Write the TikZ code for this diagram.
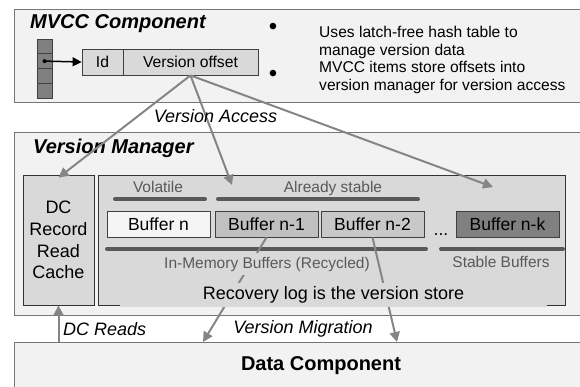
\documentclass[tikz,border=0pt]{standalone}
\usepackage{fontspec}
\setmainfont{Liberation Sans}
\usetikzlibrary{arrows.meta}
\definecolor{panelgray}{HTML}{F2F2F2}
\definecolor{boxgray}{HTML}{D9D9D9}
\definecolor{edgegray}{HTML}{767676}
\definecolor{arrowgray}{HTML}{858585}
\definecolor{bargray}{HTML}{595959}
\definecolor{cellgray}{HTML}{808080}
\definecolor{oldgray}{HTML}{C0C0C0}
\definecolor{oldergray}{HTML}{C8C8C8}
\definecolor{newgray}{HTML}{F5F5F5}

\begin{document}
\begin{tikzpicture}[x=1pt, y=-1pt,
  panel/.style={draw=edgegray, line width=1.2pt, fill=panelgray, anchor=north west, inner sep=0pt},
  paneltitle/.style={font=\fontsize{20}{24}\selectfont\bfseries\itshape, anchor=base west, inner sep=0pt},
  hashcell/.style={draw=black!75, line width=0.8pt, fill=cellgray, minimum width=15pt, minimum height=14.75pt, inner sep=0pt},
  entrycell/.style={draw=black!75, line width=0.8pt, fill=boxgray, minimum height=26pt, inner sep=0pt, font=\fontsize{15.7}{19}\selectfont},
  bufbox/.style={draw=black!75, line width=0.8pt, minimum width=103pt, minimum height=26pt, inner sep=0pt, font=\fontsize{17.5}{21}\selectfont},
  note/.style={font=\fontsize{15.6}{18.1}\selectfont, align=left, anchor=north west, inner sep=0pt},
  bulletmark/.style={font=\fontsize{24}{24}\selectfont, inner sep=0pt},
  tag/.style={font=\fontsize{15.5}{18}\selectfont, text=bargray, anchor=base, inner sep=0pt},
  flowlabel/.style={font=\fontsize{18}{21}\selectfont\itshape, inner sep=0pt},
  membar/.style={draw=bargray, line width=4pt, line cap=round},
  access/.style={draw=arrowgray, line width=2pt, -{Triangle[length=10pt, width=10pt]}}]
\useasboundingbox (0,0) rectangle (580,386);

% Draw the three layers
\node[panel, minimum width=571pt, minimum height=93pt] (mvcc) at (14,9) {};
\node[panel, minimum width=571pt, minimum height=183pt] (vm) at (14,132) {};
\node[panel, minimum width=571pt, minimum height=60pt] (dc) at (14,342) {};
\node[paneltitle] (mvcctitle) at (30,28) {MVCC Component};
\node[paneltitle] (vmtitle) at (33,153) {Version Manager};
\node[font=\fontsize{20}{24}\selectfont\bfseries, anchor=base, inner sep=0pt] (dctitle) at (321,370.5) {Data Component};

% Hash table and version entry
\foreach \i in {1,...,4}
  \node[hashcell] (hash\i) at (44.5, 31.6+14.75*\i) {};
\fill (hash2.center) circle (2pt);
\node[entrycell, minimum width=41pt] (idcell) at (102.5,62) {Id};
\node[entrycell, minimum width=135pt] (offsetcell) at (190.5,62) {Version offset};
\draw[black, line width=1.5pt, -{Triangle[length=9pt, width=9pt]}] (hash2.center) -- (idcell.west);

% Notes
\node[bulletmark] (dot1) at (273,29) {\textbullet};
\node[bulletmark] (dot2) at (273,76) {\textbullet};
\node[note] (note1) at (319,25.5) {Uses latch-free hash table to\\manage version data};
\node[note] (note2) at (319,60.6) {MVCC items store offsets into\\version manager for version access};

% Cache and buffers
\node[draw=black!80, line width=0.8pt, fill=boxgray, minimum width=71pt, minimum height=130pt, inner sep=0pt, align=center, font=\fontsize{18}{21.7}\selectfont] (cache) at (58.5,240) {DC\\Record\\Read\\Cache};
\node[draw=black!80, line width=0.8pt, fill=boxgray, minimum width=467pt, minimum height=130pt, inner sep=0pt] (mem) at (331.5,240) {};

\draw[membar] (115,199) -- (205,199);
\draw[membar] (218,199) -- (418,199);
\draw[membar] (107,249) -- (426,249);
\draw[membar] (441,249) -- (563,249);
\node[tag] (volatile) at (158,192) {Volatile};
\node[tag] (stable) at (333,192) {Already stable};

\node[bufbox, fill=newgray] (bufn) at (158.5,224) {Buffer n};
\node[bufbox, fill=oldgray] (bufa) at (266.5,224) {Buffer n-1};
\node[bufbox, fill=oldergray] (bufb) at (372.5,224) {Buffer n-2};
\node[bufbox, fill=cellgray] (bufk) at (507.5,224) {Buffer n-k};
\node[font=\fontsize{17.5}{21}\selectfont, anchor=base, inner sep=0pt] (gap) at (441,235) {...};

% Version migration
\coordinate (miga) at (203,342);
\coordinate (migb) at (397,342);
\draw[access] (bufa.south) -- (miga);
\draw[access] (bufb.south) -- (migb);

\node[tag, fill=boxgray, inner sep=4pt] (inmem) at (267,268) {In-Memory Buffers (Recycled)};
\node[tag] (stablebuf) at (501,267) {Stable Buffers};
\node[fill=boxgray, minimum width=427pt, minimum height=24pt, inner sep=0pt, font=\fontsize{18}{21}\selectfont] (recovery) at (333.5,295) {Recovery log is the version store};

% Version access and reads
\coordinate (accessa) at (232,185);
\coordinate (accessb) at (493,187);
\draw[access] (offsetcell.south) -- ([yshift=-3pt]cache.north);
\draw[access] (offsetcell.south) -- (accessa);
\draw[access] (offsetcell.south) -- (accessb);
\draw[access] (dc.north -| cache.south) -- (cache.south);

\node[flowlabel] (accesslabel) at (215.5,116) {Version Access};
\node[flowlabel, anchor=base west] (readlabel) at (63,335) {DC Reads};
\node[flowlabel, anchor=base] (miglabel) at (303,333) {Version Migration};
\end{tikzpicture}
\end{document}
